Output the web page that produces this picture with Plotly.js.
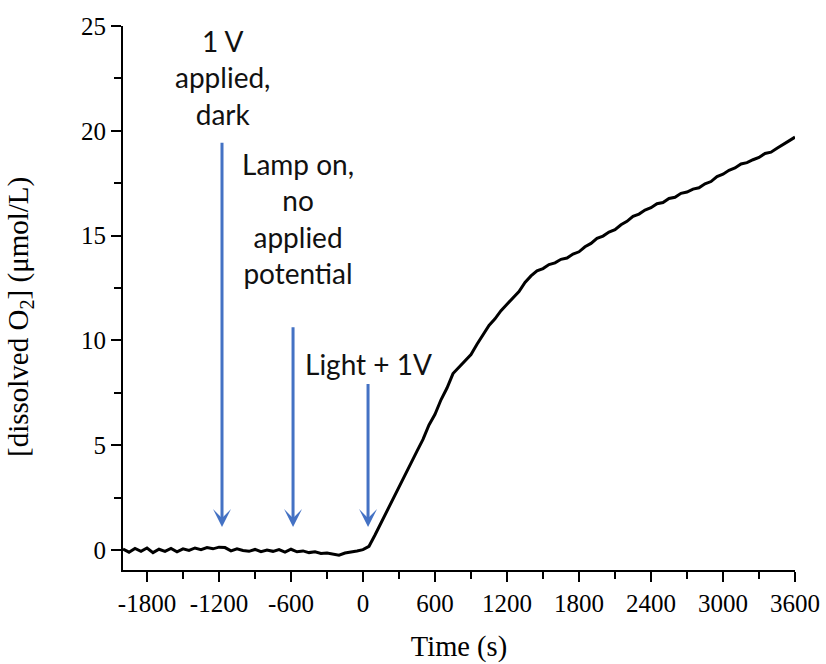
<!DOCTYPE html>
<html>
<head>
<meta charset="utf-8">
<script src="https://cdn.plot.ly/plotly-3.0.1.min.js"></script>
<style>html,body{margin:0;padding:0;background:#fff;}#chart{width:826px;height:664px;}</style>
</head>
<body>
<div id="chart"></div>
<script>
// Time (s)
const timeS = [
  -2000,-1950,-1900,-1850,-1800,-1750,-1700,-1650,-1600,-1550,
  -1500,-1450,-1400,-1350,-1300,-1250,-1200,-1150,-1100,-1050,
  -1000,-950,-900,-850,-800,-750,-700,-650,-600,-550,
  -500,-450,-400,-350,-300,-250,-200,-150,-100,-50,
  0,50,100,150,200,250,300,350,400,450,
  500,550,600,650,700,750,800,850,900,950,
  1000,1050,1100,1150,1200,1250,1300,1350,1400,1450,
  1500,1550,1600,1650,1700,1750,1800,1850,1900,1950,
  2000,2050,2100,2150,2200,2250,2300,2350,2400,2450,
  2500,2550,2600,2650,2700,2750,2800,2850,2900,2950,
  3000,3050,3100,3150,3200,3250,3300,3350,3400,3450,
  3500,3550,3600
];
// dissolved O2 (umol/L)
const dissolvedO2 = [
  0.05,-0.10,0.08,-0.06,0.10,-0.12,0.04,-0.06,0.08,-0.08,
  0.06,-0.02,0.10,0.02,0.12,0.06,0.14,0.12,-0.04,0.06,
  -0.02,-0.06,0.03,-0.08,0.00,-0.06,0.02,-0.10,0.04,-0.08,
  -0.04,-0.12,-0.08,-0.16,-0.14,-0.20,-0.24,-0.14,-0.10,-0.04,
  0.02,0.18,0.72,1.28,1.88,2.44,3.02,3.55,4.15,4.72,
  5.28,5.97,6.48,7.17,7.73,8.42,8.73,9.07,9.33,9.82,
  10.28,10.72,11.03,11.42,11.73,12.02,12.33,12.77,13.08,13.32,
  13.43,13.62,13.70,13.87,13.93,14.12,14.23,14.47,14.63,14.87,
  14.98,15.17,15.28,15.52,15.68,15.92,16.03,16.22,16.33,16.52,
  16.58,16.77,16.83,17.02,17.08,17.22,17.28,17.47,17.58,17.82,
  17.93,18.12,18.23,18.42,18.48,18.62,18.73,18.92,18.98,19.17,
  19.33,19.52,19.70
];
// Event markers
const eventTimes = [-1175, -583, 42];
const arrowTops = [19.5, 10.7, 8.0];
const arrowTip = 1.1;
const eventLabels = ["1 V<br>applied,<br>dark", "Lamp on,<br>no<br>applied<br>potential", "Light + 1V"];
const labelX = [-1175, -545, 42];
const labelY = [1.008, 19.3, 9.78];
const labelYref = ['paper', 'y', 'y'];

const xTicks = [-1800,-1200,-600,0,600,1200,1800,2400,3000,3600];
const yTicks = [0,5,10,15,20,25];

const blue = '#4472C4';
const serif = '"Liberation Serif", "Times New Roman", serif';
const annotations = [];
for (let i = 0; i < eventTimes.length; i++) {
  annotations.push({
    x: eventTimes[i], y: arrowTip, xref: 'x', yref: 'y',
    ax: eventTimes[i], ay: arrowTops[i], axref: 'x', ayref: 'y',
    text: '', showarrow: true, arrowhead: 3, arrowsize: 1, arrowwidth: 3,
    arrowcolor: blue, standoff: 0, startstandoff: 0
  });
  annotations.push({
    x: labelX[i], y: labelY[i], xref: 'x', yref: labelYref[i],
    text: eventLabels[i], showarrow: false, xanchor: 'center', yanchor: 'top',
    align: 'center',
    font: {family: 'Lato, "Open Sans", sans-serif', size: 28, color: '#111'}
  });
}
// y-axis title (placed as rotated text to match the reference's offset)
annotations.push({
  x: -123 / 672, y: (570 - 317) / 544, xref: 'paper', yref: 'paper',
  xanchor: 'left', yanchor: 'middle', textangle: -90, showarrow: false,
  text: '[dissolved O<sub>2</sub>] (μmol/L)',
  font: {family: serif, size: 29, color: '#000'}
});

const data = [{
  x: timeS, y: dissolvedO2, type: 'scatter', mode: 'lines',
  line: {color: '#000', width: 3}, hoverinfo: 'skip'
}];
const layout = {
  width: 826, height: 664,
  margin: {l: 123, r: 31, t: 26, b: 94},
  paper_bgcolor: '#fff', plot_bgcolor: '#fff',
  showlegend: false,
  xaxis: {
    range: [-2000, 3600], tickmode: 'array', tickvals: xTicks,
    ticktext: xTicks.map(String),
    showgrid: false, zeroline: false, showline: true, linecolor: '#000', linewidth: 2,
    ticks: 'outside', ticklen: 10, tickwidth: 2, tickcolor: '#000',
    minor: {dtick: 300, tick0: -1800, ticks: 'outside', ticklen: 7, tickwidth: 2, tickcolor: '#000', showgrid: false},
    tickfont: {family: serif, size: 25, color: '#000'},
    title: {text: 'Time (s)', font: {family: serif, size: 28.5, color: '#000'}, standoff: 20}
  },
  yaxis: {
    range: [-0.95, 25], tickmode: 'array', tickvals: yTicks,
    showgrid: false, zeroline: false, showline: true, linecolor: '#000', linewidth: 2,
    ticks: 'outside', ticklen: 10, tickwidth: 2, tickcolor: '#000',
    minor: {dtick: 2.5, tick0: 0, ticks: 'outside', ticklen: 7, tickwidth: 2, tickcolor: '#000', showgrid: false},
    tickfont: {family: serif, size: 25, color: '#000'}
  },
  annotations: annotations
};
Plotly.newPlot('chart', data, layout, {displayModeBar: false, staticPlot: true});
</script>
</body>
</html>
